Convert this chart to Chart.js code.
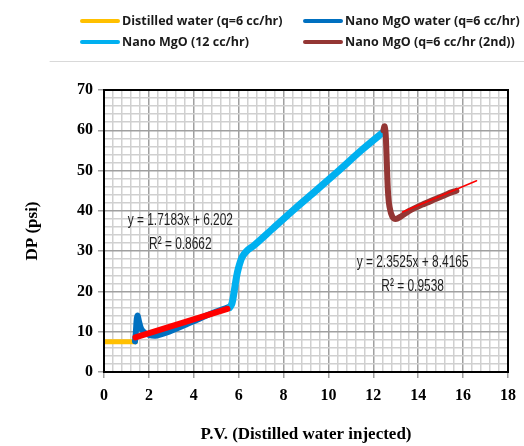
<!DOCTYPE html>
<html lang="en">
<head>
  <meta charset="UTF-8">
  <title>DP vs P.V.</title>
  <script src="https://cdn.jsdelivr.net/npm/chart.js"></script>
  <style>
    html, body { margin: 0; padding: 0; background: #fff; }
    #wrap { width: 524px; height: 446px; }
  </style>
</head>
<body>
  <div id="wrap"><canvas id="grafica" width="524" height="446"></canvas></div>

  <script>
    // measured series: [P.V., DP]
    const distilledWater = [[0, 7.5], [0.4, 7.5], [0.8, 7.5], [1.2, 7.5], [1.4, 7.5]];
    const nanoWater6 = [[1.38, 7.6], [1.42, 10], [1.46, 13.2], [1.5, 14], [1.55, 12.8], [1.65, 10.8],
      [1.8, 9.8], [2.0, 9.2], [2.3, 9.0], [2.8, 9.8], [3.5, 11.4], [4.2, 13.1], [5.0, 15.0], [5.6, 16.2]];
    const nanoMgO12 = [[5.6, 16], [5.7, 17], [5.8, 20], [5.9, 23.5], [6.0, 26], [6.15, 28.5], [6.35, 30],
      [6.7, 31.5], [7.5, 35.5], [8.5, 40.5], [9.5, 45.3], [10.5, 50.2], [11.5, 55.2], [12.45, 59.6]];
    const nanoMgO6b = [[12.45, 60], [12.5, 61], [12.55, 59], [12.6, 52], [12.65, 45], [12.72, 41],
      [12.85, 38.5], [13.0, 38], [13.2, 38.5], [13.6, 40], [14.2, 41.6], [14.8, 43], [15.3, 44.2], [15.7, 45]];

    // linear fits as printed on the chart
    const fitSlope = [1.7183, 2.3525];
    const fitIntercept = [6.202, 8.4165];
    const fitR2 = ['0.8662', '0.9538'];
    const fitRange = [[1.4, 5.5], [13.3, 16.6]];

    const seriesNames = ['Distilled water (q=6 cc/hr)', 'Nano MgO water (q=6 cc/hr)',
      'Nano MgO (12 cc/hr)', 'Nano MgO (q=6 cc/hr (2nd))'];
    const seriesColors = ['#FFC000', '#0070C0', '#00B0F0', '#943634'];

    const xTicks = [0, 2, 4, 6, 8, 10, 12, 14, 16, 18];
    const yTicks = [0, 10, 20, 30, 40, 50, 60, 70];

    const pts = arr => arr.map(p => ({ x: p[0], y: p[1] }));
    const fitPts = i => fitRange[i].map(x => ({ x: x, y: fitSlope[i] * x + fitIntercept[i] }));
    const isMajor = (v, list) => list.some(t => Math.abs(t - v) < 1e-6);

    const serif = '"Liberation Serif", "Times New Roman", serif';

    const lineDefaults = { pointRadius: 0, fill: false, borderCapStyle: 'round', borderJoinStyle: 'round', tension: 0.3 };

    // legend across the top, two columns
    const leyenda = {
      id: 'leyenda',
      afterDraw(chart) {
        const ctx = chart.ctx;
        ctx.save();
        const cols = [80, 303];
        const rows = [21, 42];
        seriesNames.forEach((name, i) => {
          const x = cols[i % 2], y = rows[Math.floor(i / 2)];
          ctx.strokeStyle = seriesColors[i];
          ctx.lineWidth = 4;
          ctx.lineCap = 'round';
          ctx.beginPath(); ctx.moveTo(x + 2, y); ctx.lineTo(x + 38, y); ctx.stroke();
          ctx.fillStyle = '#1a1a1a';
          ctx.font = '700 12.5px "Open Sans", sans-serif';
          ctx.textBaseline = 'middle';
          ctx.fillText(name, x + 42, y);
        });
        ctx.strokeStyle = '#d9d9d9';
        ctx.lineWidth = 1;
        ctx.beginPath(); ctx.moveTo(50, 61.5); ctx.lineTo(524, 61.5); ctx.stroke();
        ctx.restore();
      }
    };

    // narrow text: squeeze a normal sans horizontally
    function narrowText(ctx, txt, cx, cy) {
      ctx.save();
      ctx.translate(cx, cy);
      ctx.scale(0.7, 1);
      ctx.fillText(txt, 0, 0);
      ctx.restore();
    }

    // black frame around the plot area and the fit equations
    const marco = {
      id: 'marco',
      afterDatasetsDraw(chart) {
        const ctx = chart.ctx, a = chart.chartArea;
        const sx = chart.scales.x, sy = chart.scales.y;
        ctx.save();
        ctx.strokeStyle = '#000';
        ctx.lineWidth = 2;
        ctx.strokeRect(a.left, a.top, a.right - a.left, a.bottom - a.top);

        const labelPos = [[3.4, 37.7, 31.7], [13.75, 27.3, 21.3]];
        ctx.fillStyle = '#1f1f1f';
        ctx.textAlign = 'center';
        ctx.textBaseline = 'middle';
        ctx.font = '17px "Liberation Sans", Arial, sans-serif';
        fitSlope.forEach((m, i) => {
          const px = sx.getPixelForValue(labelPos[i][0]);
          narrowText(ctx, 'y = ' + m + 'x + ' + fitIntercept[i], px, sy.getPixelForValue(labelPos[i][1]));
          narrowText(ctx, 'R² = ' + fitR2[i], px, sy.getPixelForValue(labelPos[i][2]));
        });
        ctx.restore();
      }
    };

    new Chart(document.getElementById('grafica'), {
      type: 'line',
      data: {
        datasets: [
          { label: 'fit1', data: fitPts(0), borderColor: '#FF0000', borderWidth: 6, order: 0, ...lineDefaults, tension: 0 },
          { label: 'fit2', data: fitPts(1), borderColor: '#FF0000', borderWidth: 1.5, order: 0, ...lineDefaults, tension: 0 },
          { label: seriesNames[0], data: pts(distilledWater), borderColor: seriesColors[0], borderWidth: 5, order: 4, ...lineDefaults },
          { label: seriesNames[1], data: pts(nanoWater6), borderColor: seriesColors[1], borderWidth: 6, order: 3, ...lineDefaults },
          { label: seriesNames[2], data: pts(nanoMgO12), borderColor: seriesColors[2], borderWidth: 7, order: 2, ...lineDefaults },
          { label: seriesNames[3], data: pts(nanoMgO6b), borderColor: seriesColors[3], borderWidth: 6, order: 1, ...lineDefaults }
        ]
      },
      options: {
        responsive: false,
        animation: false,
        layout: { padding: { top: 90, right: 9, left: 0, bottom: 0 } },
        plugins: { legend: { display: false }, tooltip: { enabled: false } },
        scales: {
          x: {
            type: 'linear', min: 0, max: 18,
            afterFit(scale) { scale.height = 74; },
            afterBuildTicks(scale) {
              const t = [];
              for (let i = 0; i <= 45; i++) t.push({ value: Math.round(i * 0.4 * 10) / 10 });
              scale.ticks = t;
            },
            ticks: {
              autoSkip: false, maxRotation: 0, padding: 8, color: '#000',
              font: { family: serif, size: 16, weight: 'bold' },
              callback: v => isMajor(v, xTicks) ? String(Math.round(v)) : ''
            },
            grid: {
              lineWidth: 1.5, tickLength: 6,
              color: c => isMajor(c.tick.value, xTicks) ? '#a0a0a0' : '#d0d0d0',
              tickColor: c => isMajor(c.tick.value, xTicks) ? '#a0a0a0' : 'rgba(0,0,0,0)'
            },
            border: { color: '#000', width: 2 },
            title: {
              display: true, text: 'P.V. (Distilled water injected)', color: '#000',
              font: { family: serif, size: 17, weight: 'bold' }, padding: { top: 0, bottom: 1 }
            }
          },
          y: {
            min: 0, max: 70,
            afterFit(scale) { scale.width = 104; },
            afterBuildTicks(scale) {
              const t = [];
              for (let v = 0; v <= 70; v += 2) t.push({ value: v });
              scale.ticks = t;
            },
            ticks: {
              autoSkip: false, padding: 5, color: '#000',
              font: { family: serif, size: 16, weight: 'bold' },
              callback: v => isMajor(v, yTicks) ? String(v) : ''
            },
            grid: {
              lineWidth: 1.5, tickLength: 6,
              color: c => isMajor(c.tick.value, yTicks) ? '#a0a0a0' : '#d0d0d0',
              tickColor: c => isMajor(c.tick.value, yTicks) ? '#a0a0a0' : 'rgba(0,0,0,0)'
            },
            border: { color: '#000', width: 2 },
            title: {
              display: true, text: 'DP (psi)', color: '#000',
              font: { family: serif, size: 17, weight: 'bold' }, padding: { top: 22, bottom: 0 }
            }
          }
        }
      },
      plugins: [leyenda, marco]
    });
  </script>
</body>
</html>
